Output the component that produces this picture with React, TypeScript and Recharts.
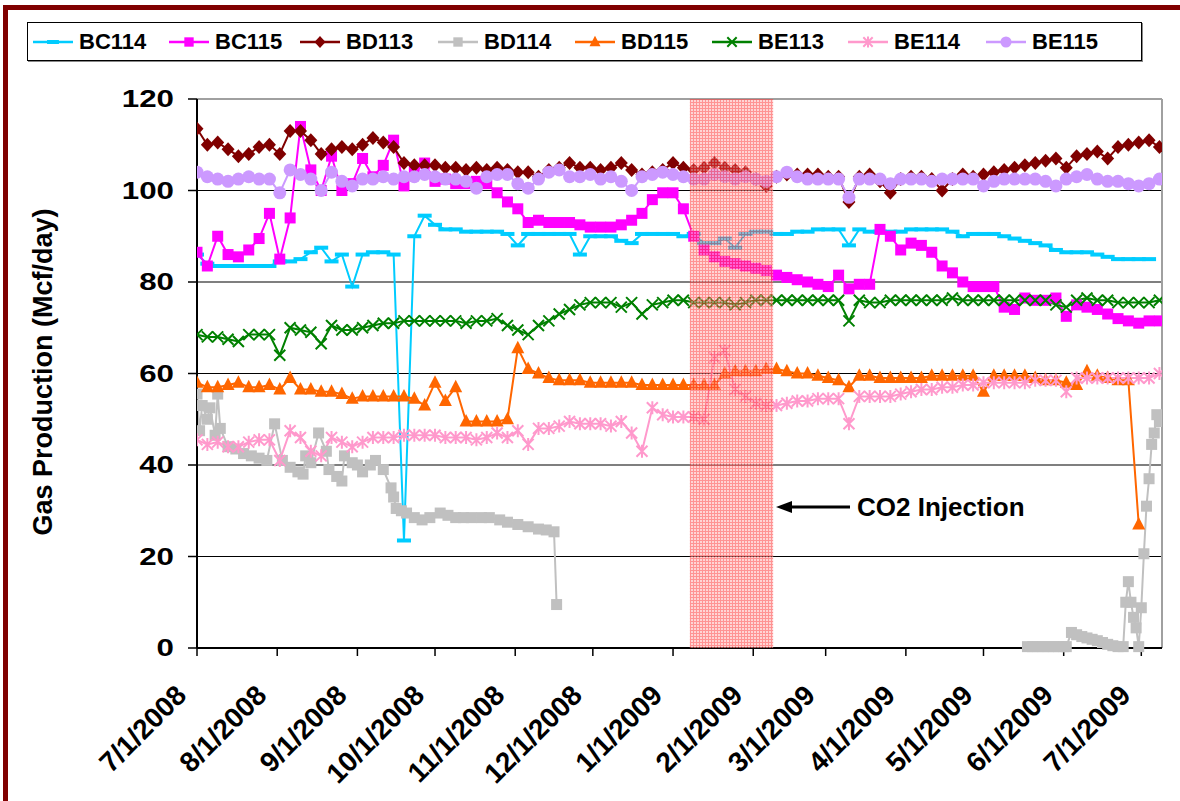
import React from 'react';
import { LineChart, Line, XAxis, YAxis, CartesianGrid, ReferenceArea, ReferenceLine } from 'recharts';

// sample days (days since 7/1/2008), every 4 days
const days = [
  0, 4, 8, 12, 16, 20, 24, 28, 32, 36,
  40, 44, 48, 52, 56, 60, 64, 68, 72, 76,
  80, 84, 88, 92, 96, 100, 104, 108, 112, 116,
  120, 124, 128, 132, 136, 140, 144, 148, 152, 156,
  160, 164, 168, 172, 176, 180, 184, 188, 192, 196,
  200, 204, 208, 212, 216, 220, 224, 228, 232, 236,
  240, 244, 248, 252, 256, 260, 264, 268, 272, 276,
  280, 284, 288, 292, 296, 300, 304, 308, 312, 316,
  320, 324, 328, 332, 336, 340, 344, 348, 352, 356,
  360, 364, 368, 372,
];

const monthTicks = [0, 31, 62, 92, 123, 153, 184, 215, 243, 274, 304, 335, 365];
const monthLabels = [
  '7/1/2008', '8/1/2008', '9/1/2008', '10/1/2008', '11/1/2008', '12/1/2008',
  '1/1/2009', '2/1/2009', '3/1/2009', '4/1/2009', '5/1/2009', '6/1/2009', '7/1/2009',
];
const yTicks = [0, 20, 40, 60, 80, 100, 120];

// CO2 injection window (days)
const injectionStart = 190.5;
const injectionEnd = 222.7;

const bc114 = [
  86, 84, 83.5, 83.5, 83.5, 83.5, 83.5, 83.5, 84.5, 84.5,
  85, 86.5, 87.5, 84.5, 86, 79, 86, 86.5, 86.5, 86,
  23.5, 90, 94.5, 92.5, 91.5, 91.5, 91, 91, 91, 91,
  90.5, 88, 90.5, 90.5, 90.5, 90.5, 90.5, 86, 90, 90,
  90, 89, 88.5, 90.5, 90.5, 90.5, 90.5, 90, 90.5, 88.5,
  88.5, 89.5, 87.5, 90.5, 91, 91, 90.5, 90.5, 91, 91,
  91.5, 91.5, 91.5, 88, 91.5, 91, 91, 91, 91, 91.5,
  91.5, 91.5, 91.5, 91, 90, 90.5, 90.5, 90.5, 90, 89.5,
  89, 88.5, 88, 87, 86.5, 86.5, 86.5, 86, 85.5, 85,
  85, 85, 85, null,
];

const bc115 = [
  86.5, 83.5, 90, 86, 85.5, 87, 89.5, 95, 85, 94,
  114, 104.5, 100, 107.5, 100, 101.5, 107, 103, 105.5, 111,
  101, 104, 106, 102, 102.5, 101.5, 101.5, 102, 101.5, 99.5,
  97.5, 96, 93, 93.5, 93, 93, 93, 92.5, 92, 92,
  92, 92.5, 93.5, 95, 98, 99.5, 99.5, 96, 90, 87,
  85.5, 84.5, 84, 83.5, 83, 82.5, 81.5, 81, 80.5, 80,
  79.5, 79, 81.5, 78.5, 79.5, 79.5, 91.5, 90, 87, 88.5,
  88, 86.5, 83.5, 82, 80, 79, 79, 79, 74.5, 74,
  76.5, 76, 76, 76.5, 72.5, 75, 74.5, 74, 73, 72,
  71.5, 71, 71.5, 71.5,
];

const bd113 = [
  113.5, 110, 110.5, 109, 107.5, 108, 109.5, 110, 108, 113,
  113, 111, 108, 109, 109.5, 109, 110, 111.5, 110.5, 109.5,
  106, 105.5, 105.5, 105.5, 105, 105, 104.5, 105, 104.5, 105,
  104.5, 104, 104, 103, 104.5, 105, 106, 105, 105, 104.5,
  105, 106, 104.5, 103.5, 104, 104.5, 106, 105, 104.5, 105,
  106, 105, 104.5, 104, 102.5, 101, 103, 103.5, 103.5, 103.5,
  103.5, 103, 103, 97.5, 103, 103.5, 102, 99.5, 102.5, 103,
  103, 102.5, 100, 102.5, 103.5, 103, 103.5, 104, 104.5, 105,
  105.5, 106, 106.5, 107, 105, 107.5, 108, 108.5, 107, 109.5,
  110, 110.5, 111, 109.5,
];

const bd115 = [
  58, 57, 57, 57.5, 58, 57, 57, 57.5, 56.5, 59,
  56.5, 56.5, 56, 56, 55.5, 54.5, 55, 55, 55, 55,
  55, 54.5, 53, 58, 54, 57, 49.5, 49.5, 49.5, 49.5,
  50, 65.5, 61, 60, 59, 58.5, 58.5, 58.5, 58, 58,
  58, 58, 58, 57.5, 57.5, 57.5, 57.5, 57.5, 57.5, 57.5,
  57.5, 60, 60.5, 60.5, 60.5, 61, 61, 60.5, 60, 60,
  59.5, 59, 58.5, 57, 59.5, 59.5, 59, 59, 59, 59,
  59, 59.5, 59.5, 59.5, 59.5, 59.5, 56, 59.5, 59.5, 59.5,
  59.5, 59, 58.5, 58.5, 58, 57.5, 60.5, 59.5, 59, 58.5,
  58.5, 27, null, null,
];

const be113 = [
  68.5, 68, 68, 67.5, 67, 68.5, 68.5, 68.5, 64, 70,
  69.5, 69, 66.5, 70.5, 69.5, 69.5, 70, 70.5, 71, 71,
  71.5, 71.5, 71.5, 71.5, 71.5, 71.5, 71, 71.5, 71.5, 72,
  70.5, 69.5, 68.5, 70.5, 71.5, 73, 74, 75, 75.5, 75.5,
  75.5, 74.5, 75.5, 73, 75, 75.5, 76, 76, 75.5, 75.5,
  75.5, 75.5, 75, 75.5, 76, 76, 76, 76, 76, 76,
  76, 76, 76, 71.5, 76, 75.5, 75.5, 76, 76, 76,
  76, 76, 76, 76.5, 76, 76, 76, 76, 76, 76,
  76, 76, 76, 75, 74.5, 76, 76.5, 76, 76, 75.5,
  75.5, 75.5, 75.5, 76,
];

const be114 = [
  45.5, 44.5, 45, 44, 44, 45, 45.5, 45.5, 41, 47.5,
  46, 43, 42, 46, 45, 44, 45, 46, 46, 46,
  46.5, 46.5, 46.5, 46.5, 46, 46, 46, 45.5, 46, 47,
  46, 47.5, 44.5, 48, 48, 48.5, 49.5, 49, 49, 49,
  48.5, 49.5, 47, 43, 52.5, 51, 50.5, 50.5, 50.5, 50,
  63.5, 65, 56.5, 55, 53.5, 53, 53, 53.5, 54, 54,
  54.5, 54.5, 54.5, 49, 55, 55, 55, 55, 55.5, 56,
  56.5, 56.5, 57, 57, 57.5, 57.5, 58, 58, 58, 58,
  58, 58.5, 58.5, 58.5, 56, 59, 59, 59, 59, 59,
  59, 59, 59, 60,
];

const be115 = [
  104, 103, 102.5, 102, 102.5, 103, 102.5, 102.5, 99.5, 104.5,
  103.5, 102.5, 100, 104, 102, 101, 102.5, 102.5, 103, 102.5,
  103, 103, 103.5, 103, 102.5, 102.5, 102, 100.5, 103, 103.5,
  103.5, 101.5, 100.5, 102.5, 104, 104.5, 103, 103, 103.5, 102.5,
  103, 102, 100, 103, 103.5, 104, 103.5, 103, 102.5, 102.5,
  103.5, 103, 102.5, 103, 102.5, 102, 103, 104, 103, 102.5,
  102.5, 102.5, 102.5, 98.5, 102.5, 102.5, 102.5, 101.5, 102.5, 102.5,
  102.5, 102, 102.5, 102.5, 102.5, 102.5, 101, 102, 102.5, 102.5,
  102.5, 102.5, 102, 101, 102.5, 103, 103.5, 102.5, 102, 102,
  101.5, 101, 101.5, 102.5,
];

// BD114 was shut in for most of the period, so it has its own days
const bd114Days = [
  0, 1, 2, 4, 5, 7, 8, 9, 12, 15,
  18, 21, 24, 27, 30, 33, 36, 39, 41, 42,
  44, 47, 50, 51, 54, 56, 57, 60, 62, 64,
  67, 69, 72, 75, 76, 77, 79, 81, 84, 87,
  90, 94, 97, 100, 103, 106, 110, 113, 117, 120,
  124, 128, 132, 135, 138, 139, 140,
  321, 323, 325, 327, 329, 331, 333, 335, 336, 338,
  340, 342, 344, 346, 348, 350, 352, 354, 356, 358,
  359, 360, 361, 362, 363, 364, 365, 366, 367, 368,
  369, 370, 371, 372, 373,
];
const bd114 = [
  55.5, 47.5, 53, 50, 52.5, 46.5, 55.5, 48, 44, 43.5,
  42.5, 42, 41.5, 41, 49, 41, 39.5, 38.5, 38, 42,
  40.5, 47, 43, 39, 37.5, 36.5, 42, 40.5, 40, 38.5,
  40, 41, 39, 35, 33, 30.5, 30, 29.5, 28.5, 28,
  28.5, 29.5, 29, 28.5, 28.5, 28.5, 28.5, 28.5, 28, 27.5,
  27, 26.5, 26, 25.8, 25.4, 9.5, null,
  0.3, 0.3, 0.3, 0.3, 0.3, 0.3, 0.3, 0.3, 0.3, 3.4,
  2.9, 2.5, 2.2, 1.9, 1.6, 1.2, 0.8, 0.5, 0.3, 0.3,
  10, 14.5, 10, 6.7, 4.4, 0.3, 8.8, 20.6, 31, 37,
  44.5, 47, 51, 49.5, 50,
];

const FONT = "Arial, 'Liberation Sans', sans-serif";

type Shape = 'dash' | 'square' | 'diamond' | 'triangle' | 'x' | 'star' | 'circle';

const series: { name: string; color: string; shape: Shape; x: number[]; y: (number | null)[] }[] = [
  { name: 'BC114', color: '#00CCFF', shape: 'dash', x: days, y: bc114 },
  { name: 'BC115', color: '#FF00FF', shape: 'square', x: days, y: bc115 },
  { name: 'BD113', color: '#800000', shape: 'diamond', x: days, y: bd113 },
  { name: 'BD114', color: '#C0C0C0', shape: 'square', x: bd114Days, y: bd114 },
  { name: 'BD115', color: '#FF6600', shape: 'triangle', x: days, y: bd115 },
  { name: 'BE113', color: '#008000', shape: 'x', x: days, y: be113 },
  { name: 'BE114', color: '#FF99CC', shape: 'star', x: days, y: be114 },
  { name: 'BE115', color: '#CC99FF', shape: 'circle', x: days, y: be115 },
];

const Marker = ({ shape, color, cx, cy, k = 1 }: { shape: Shape; color: string; cx: number; cy: number; k?: number }) => {
  switch (shape) {
    case 'dash':
      return <rect x={cx - 7 * k} y={cy - 2} width={14 * k} height={4} fill={color} />;
    case 'square':
      return <rect x={cx - 5.5 * k} y={cy - 5.5 * k} width={11 * k} height={11 * k} fill={color} />;
    case 'diamond':
      return <polygon points={`${cx},${cy - 7 * k} ${cx + 6.5 * k},${cy} ${cx},${cy + 7 * k} ${cx - 6.5 * k},${cy}`} fill={color} />;
    case 'triangle':
      return <polygon points={`${cx},${cy - 7.5 * k} ${cx + 6.5 * k},${cy + 5 * k} ${cx - 6.5 * k},${cy + 5 * k}`} fill={color} />;
    case 'x':
      return (
        <path d={`M${cx - 5.5 * k},${cy - 5.5 * k}L${cx + 5.5 * k},${cy + 5.5 * k}M${cx - 5.5 * k},${cy + 5.5 * k}L${cx + 5.5 * k},${cy - 5.5 * k}`} stroke={color} strokeWidth={2} />
      );
    case 'star':
      return (
        <path
          d={`M${cx - 5.5 * k},${cy - 5.5 * k}L${cx + 5.5 * k},${cy + 5.5 * k}M${cx - 5.5 * k},${cy + 5.5 * k}L${cx + 5.5 * k},${cy - 5.5 * k}M${cx},${cy - 6.5 * k}L${cx},${cy + 6.5 * k}`}
          stroke={color}
          strokeWidth={2}
        />
      );
    default:
      return <circle cx={cx} cy={cy} r={6.5 * k} fill={color} />;
  }
};

const makeDot = (shape: Shape, color: string) => (p: any) => {
  if (p.cx == null || p.cy == null || p.value == null) return <g key={p.index} />;
  return (
    <g key={p.index}>
      <Marker shape={shape} color={color} cx={p.cx} cy={p.cy} />
    </g>
  );
};

const XTick = (props: any) => {
  const { x, y, payload } = props;
  const i = monthTicks.indexOf(payload.value);
  const ax = x - 9;
  const ay = y + 41;
  return (
    <text x={ax} y={ay} transform={`rotate(-45 ${ax} ${ay})`} textAnchor="end" fontSize={28} fontWeight="bold" fontFamily={FONT} fill="#000">
      {monthLabels[i]}
    </text>
  );
};

const YTick = (props: any) => {
  const { x, y, payload } = props;
  return (
    <text transform={`translate(${x} ${y}) scale(1.36 1)`} x={0} y={0} dy="0.36em" textAnchor="end" fontSize={23} fontWeight="bold" fontFamily={FONT} fill="#000">
      {payload.value}
    </text>
  );
};

const legendX = [78, 214, 345, 483, 620, 757, 893, 1031];

export default function App() {
  return (
    <div style={{ position: 'absolute', left: 0, top: 0, width: 1180, height: 801, background: '#fff', fontFamily: FONT }}>
      <LineChart width={1180} height={801} margin={{ top: 99, right: 18, bottom: 8, left: 0 }}>
        <defs>
          <pattern id="co2hatch" width="3" height="3" patternUnits="userSpaceOnUse">
            <rect width="3" height="3" fill="#ffb0b0" />
            <path d="M0,0.5H3M0.5,0V3" stroke="#ff3b3b" strokeWidth={1} />
          </pattern>
        </defs>
        <CartesianGrid vertical={false} stroke="#000" strokeWidth={1.2} />
        <XAxis
          type="number"
          dataKey="day"
          domain={[0, 373]}
          ticks={monthTicks}
          interval={0}
          tick={XTick}
          tickSize={8}
          tickMargin={0}
          height={145}
          axisLine={{ stroke: '#000', strokeWidth: 2 }}
          tickLine={{ stroke: '#000', strokeWidth: 1.5 }}
          allowDataOverflow
        />
        <YAxis
          type="number"
          domain={[0, 120]}
          ticks={yTicks}
          interval={0}
          width={197}
          tick={YTick}
          tickSize={9}
          tickMargin={14}
          axisLine={{ stroke: '#000', strokeWidth: 2 }}
          tickLine={{ stroke: '#000', strokeWidth: 1.5 }}
        />
        <ReferenceLine y={120} stroke="#a0a0a0" strokeWidth={2} />
        <ReferenceLine x={373} stroke="#a0a0a0" strokeWidth={2} />
        {series.map((s) => (
          <Line
            key={s.name}
            name={s.name}
            data={s.x.map((d, i) => ({ day: d, v: s.y[i] }))}
            dataKey="v"
            type="linear"
            stroke={s.color}
            strokeWidth={2}
            dot={makeDot(s.shape, s.color)}
            activeDot={false}
            isAnimationActive={false}
          />
        ))}
        <ReferenceArea
          x1={injectionStart}
          x2={injectionEnd}
          y1={0}
          y2={120}
          fill="url(#co2hatch)"
          fillOpacity={0.55}
          stroke="none"
          {...({ zIndex: 800 } as any)}
        />
      </LineChart>

      {/* page frame */}
      <div style={{ position: 'absolute', left: 3, top: 5, right: 0, bottom: 0, borderTop: '5px solid #800000', borderLeft: '5px solid #800000' }} />

      {/* legend */}
      <div style={{ position: 'absolute', left: 27, top: 22, width: 1113, height: 37, border: '1px solid #000', boxShadow: '1px 1px 0 #888', background: '#fff' }}>
        {series.map((s, i) => (
          <div key={s.name} style={{ position: 'absolute', left: legendX[i] - 27 - 48, top: 0, height: 37, display: 'flex', alignItems: 'center' }}>
            <svg width={44} height={20} style={{ marginRight: 4 }}>
              <line x1={2} y1={10} x2={42} y2={10} stroke={s.color} strokeWidth={2.5} />
              <Marker shape={s.shape} color={s.color} cx={22} cy={10} k={0.85} />
            </svg>
            <span style={{ fontSize: 22, fontWeight: 'bold', color: '#000' }}>{s.name}</span>
          </div>
        ))}
      </div>

      {/* axis title and annotation */}
      <svg width={1180} height={801} style={{ position: 'absolute', left: 0, top: 0, pointerEvents: 'none' }}>
        <text x={52} y={372} transform="rotate(-90 52 372)" textAnchor="middle" fontSize={27} fontWeight="bold" fontFamily={FONT} fill="#000">
          Gas Production (Mcf/day)
        </text>
        <line x1={790} y1={507} x2={850} y2={507} stroke="#000" strokeWidth={3} />
        <polygon points="776,507 792,501 792,513" fill="#000" />
        <text x={857} y={516} fontSize={26} fontWeight="bold" fontFamily={FONT} fill="#000">
          CO2 Injection
        </text>
      </svg>
    </div>
  );
}
